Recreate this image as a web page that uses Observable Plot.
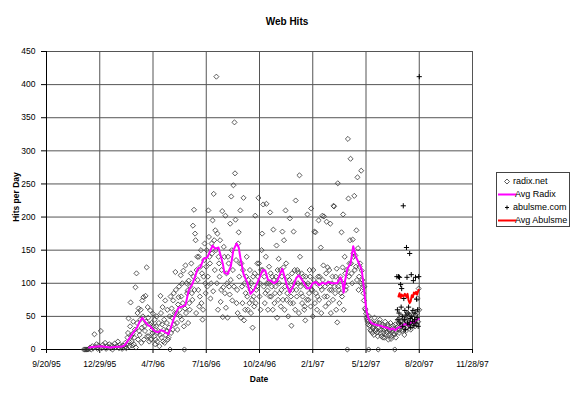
<!DOCTYPE html>
<html><head><meta charset="utf-8">
<script src="https://cdn.jsdelivr.net/npm/d3@7"></script>
<script src="https://cdn.jsdelivr.net/npm/@observablehq/plot@0.6"></script>
<style>
body{margin:0;background:#fff;}
#wrap{position:relative;width:575px;height:393px;overflow:hidden;font-family:"Liberation Sans",Arial,sans-serif;color:#000;}
#wrap svg.plot{position:absolute;left:0;top:0;}
.t{position:absolute;white-space:nowrap;}
#title{left:187px;width:200px;top:16px;text-align:center;font-size:10px;font-weight:bold;line-height:12px;}
#xlab{left:209px;width:100px;top:374px;text-align:center;font-size:8.5px;font-weight:bold;line-height:10px;}
#ylab{left:-34px;width:100px;top:192px;text-align:center;font-size:8.5px;font-weight:bold;line-height:10px;transform:rotate(-90deg);transform-origin:50% 50%;}
#legend{position:absolute;left:496px;top:172px;width:74px;height:55px;box-sizing:border-box;border:1px solid #444;background:#fff;font-size:9px;}
#legend .row{position:absolute;left:0;height:13px;line-height:13px;width:73px;}
#legend svg{position:absolute;left:0;top:0;}
#legend span{position:absolute;top:0;}
</style></head>
<body>
<div id="wrap">
  <div id="title" class="t"></div>
  <div id="xlab" class="t"></div>
  <div id="ylab" class="t"></div>
  <div id="legend"></div>
</div>
<script>
// ---- data (day offsets from 9/20/95, hits per day) ----
const baseDate = "9/20/95";
const chartTitle = "Web Hits";
const xLabel = "Date";
const yLabel = "Hits per Day";
const seriesNames = ["radix.net", "Avg Radix", "abulsme.com", "Avg Abulsme"];
const xTickLabels = ["9/20/95","12/29/95","4/7/96","7/16/96","10/24/96","2/1/97","5/12/97","8/20/97","11/28/97"];
const yTicks = [0,50,100,150,200,250,300,350,400,450];

const radixEvenDays = [
[70,0],[72,0],[74,0],[76,0],[78,0],[80,1],
[82,3],[84,0],[86,5],[88,2],[90,23],[92,4],[94,8],[96,1],[98,6],[100,3],[102,28],[104,2],[106,7],[108,4],[110,10],[112,1],[114,5],[116,3],[118,8],[120,2],[122,6],[124,0],[126,4],[128,9],[130,3],[132,5],[134,12],[136,2],[138,7],[140,4],[142,1],[144,6],[146,3],
[148,10],[150,2],[152,18],[154,47],[156,5],[158,71],[160,12],[162,24],[164,8],[166,30],[167,94],[168,3],[169,115],[170,40],[172,15],[173,62],[174,28],[176,45],[178,10],[180,74],[182,79],[184,35],[186,81],[188,124],[190,64],[192,20],[194,38],[195,59],[196,15],[198,30],[200,54],
[202,20],[204,8],[206,35],[208,12],[210,28],[212,5],[214,81],[216,18],[218,64],[220,30],[222,10],[223,74],[224,22],[226,40],[228,15],[230,33],[232,0],[233,80],[234,25],[236,48],[238,74],[240,38],[242,117],[244,55],[246,30],[248,79],[250,60],[252,112],[254,45],[256,70],[257,119],[258,35],[259,0],[260,62],
[261,127],[262,55],[264,85],[265,89],[266,40],[267,104],[268,70],[270,95],[272,130],[274,75],[275,187],[276,110],[277,211],[278,90],[279,175],[280,165],[281,55],[282,120],[284,105],[286,140],[287,65],[288,80],[290,150],[292,115],[293,45],[294,60],[296,135],[298,100],
[300,125],[302,95],[304,210],[306,140],[308,77],[310,160],[312,195],[313,88],[314,235],[316,120],[317,180],[318,150],[319,412],[320,100],[321,175],[322,60],[324,130],[326,165],[327,72],[328,90],[330,209],[331,49],[332,94],[334,140],[336,202],[337,63],[338,115],[340,48],[342,130],[343,95],[344,83],[345,190],[346,105],[347,231],[348,150],[349,74],[350,120],[351,248],[352,95],[353,343],[354,266],[355,196],[356,135],[357,70],[358,90],[359,55],[360,160],[361,177],[362,110],[364,210],[365,48],
[366,130],[368,70],[370,229],[371,44],[372,100],[374,85],[376,140],[378,60],[380,95],[382,120],[384,55],[386,75],[387,33],[388,110],[390,65],[392,202],[394,90],[396,130],[398,229],[400,80],[402,60],[404,150],[405,175],[406,120],[407,219],[408,95],[410,70],[412,140],[413,220],[414,100],[415,89],[416,60],[418,125],[420,207],[422,80],[424,110],[426,181],[428,70],[430,95],[432,157],[433,48],[434,120],[436,137],[438,85],[440,65],
[442,110],[443,178],[444,75],[445,124],[446,165],[447,60],[448,95],[449,210],[450,130],[452,85],[454,50],[456,105],[457,198],[458,70],[460,36],[462,90],[464,178],[466,120],[467,60],[468,225],[470,80],[472,100],[473,116],[474,55],[475,263],[476,140],[478,85],[480,70],[482,110],[484,60],[486,44],[488,95],[490,204],[492,75],[494,120],[496,65],[497,213],[498,90],[500,50],[502,105],[503,178],[504,70],[505,177],[506,85],[508,60],[510,110],[511,195],[512,75],[514,95],[515,154],[516,55],[518,202],[520,127],[521,201],[522,80],[524,65],[526,193],[528,124],[530,70],[532,90],[533,190],[534,55],[536,100],[538,75],[539,217],[540,216],[542,85],[544,60],[545,122],[546,41],[547,251],[548,95],[550,70],[552,110],[554,177],[555,80],[556,124],[557,204],[558,60],[560,140],[562,90],[564,120],[565,0],[566,318],[567,228],[568,110],[570,165],[571,288],[572,130],[574,100],[575,166],[576,145],[578,232],[579,120],[580,142],[582,180],[583,105],[584,260],[585,153],[586,90],[588,125],[590,100],[591,270],[592,119],[594,94],[596,74],[598,62],[600,54],
[602,45],[604,38],[605,0],[606,50],[608,30],[610,42],[612,25],[614,35],[616,48],[618,28],[620,40],[622,20],[623,0],[624,33],[626,45],[628,25],[630,38],[632,18],[634,30],[636,42],[638,22],[640,35],[642,15],[644,28],[646,40],[648,20],[650,32],[652,24],[654,0],[655,38],[656,18],[658,30],[660,45],[662,25],[664,35],[666,50],[668,28],[670,40],[672,22],[674,45],[676,33],[678,55],[680,38],[682,48],[684,30],[686,52],[688,40],[690,58],[692,35],[694,45],[696,55],[697,77],[698,42],[699,92],[700,60]
];

const radixOddDays = [
[149,4],[151,8],[153,25],[155,12],[157,35],[159,20],[161,6],[163,42],[165,18],[171,55],[175,22],[177,60],[179,33],[181,50],[183,15],[185,28],[187,42],[189,20],[191,48],[193,12],[197,40],[199,25],
[201,35],[203,45],[205,15],[207,50],[209,25],[211,40],[213,22],[215,55],[217,38],[219,12],[221,45],[225,28],[227,60],[229,18],[231,50],[235,62],[237,30],[239,85],[241,55],[243,90],[245,40],[247,68],[249,95],[251,50],[253,80],[255,100],
[263,100],[269,60],[271,115],[273,85],[283,140],[285,90],[289,125],[291,70],[295,110],[297,160],[299,85],
[301,150],[303,110],[305,170],[307,130],[309,100],[311,145],[315,165],[323,140],[325,110],[329,120],[333,155],[335,85],[339,100],[341,140],[363,130],
[367,95],[369,120],[373,60],[375,110],[377,80],[379,105],[381,70],[383,90],[385,100],[389,80],[391,115],[393,70],[395,95],[397,110],[399,130],[401,100],[403,120],[409,110],[411,85],[417,100],[419,80],[421,115],[423,95],[425,60],[427,105],[429,85],[431,110],[435,75],[437,100],[439,120],[441,90],
[451,75],[453,110],[455,95],[459,80],[461,115],[463,70],[465,100],[469,90],[471,120],[477,95],[479,115],[481,80],[483,100],[485,65],[487,110],[489,75],[491,100],[493,85],[495,110],[499,90],[501,120],[507,100],[509,80],[513,110],[517,90],[519,105],[523,95],[525,115],[527,80],[529,100],[531,120],[535,90],[537,110],[541,95],[543,110],[549,90],[551,105],[553,85],[559,100],[561,115],[563,95],[569,130],[573,115],[577,140],[581,125],[587,110],[589,130],[593,105],[595,85],[597,95],[599,60],
[601,48],[603,42],[607,36],[609,28],[611,40],[613,32],[615,22],[617,38],[619,30],[621,26],[625,40],[627,30],[629,20],[631,35],[633,26],[635,18],[637,32],[639,26],[641,38],[643,22],[645,30],[647,16],[649,28],[651,36],[653,22],[657,26],[659,34],[661,40],[663,30],[665,42],[667,36],[669,30],[671,46],[673,38],[675,28],[677,42],[679,35],[681,50],[683,40],[685,45],[687,36],[689,48],[691,42],[693,52],[695,38]
];

const avgRadix = [
[80,3],[90,4],[100,5],[110,4],[120,3],[130,4],[140,4],[146,6],[150,10],[155,16],[160,22],[165,28],[170,33],[175,42],[180,48],[185,42],[190,37],[195,35],[200,30],[205,27],[210,26],[215,29],[220,28],[225,25],[229,23],[233,32],[238,44],[243,55],[248,63],[255,65],[261,67],[267,89],[271,95],[274,99],[279,110],[284,122],[289,124],[295,137],[302,139],[307,148],[312,157],[317,152],[323,154],[327,142],[331,130],[334,116],[340,114],[346,125],[351,150],[357,160],[361,154],[364,139],[370,114],[377,101],[383,84],[389,89],[396,101],[401,110],[406,120],[411,119],[416,105],[421,104],[427,100],[433,103],[439,115],[443,122],[447,110],[451,98],[457,86],[463,95],[469,108],[474,112],[479,106],[485,98],[490,92],[495,93],[500,100],[506,102],[512,97],[518,101],[524,99],[530,102],[536,100],[542,100],[546,100],[552,109],[556,100],[558,86],[561,105],[565,122],[571,130],[574,145],[576,156],[578,150],[581,140],[584,135],[588,128],[592,120],[595,100],[598,78],[601,58],[605,46],[610,40],[615,38],[620,37],[627,36],[633,34],[640,33],[646,30],[650,32],[655,29],[660,33],[665,34],[670,37],[675,39],[680,36],[685,42],[690,40],[695,45],[699,46]
];

const abulsme = [
[658,110],[659,60],[660,45],[661,110],[662,55],[663,109],[664,40],[665,98],[666,64],[667,92],[668,50],[669,35],[670,217],[671,77],[672,45],[673,59],[674,30],[675,52],[676,154],[677,109],[678,40],[679,55],[680,64],[681,38],[682,145],[683,47],[684,33],[685,113],[686,50],[687,42],[688,59],[689,104],[690,36],[691,45],[692,55],[693,109],[694,40],[695,76],[696,48],[697,60],[698,35],[699,110],[700,412]
];

const avgAbulsme = [
[661,80],[663,85],[665,78],[667,83],[670,80],[673,84],[676,79],[678,84],[680,74],[682,70],[684,73],[686,82],[688,79],[690,86],[692,84],[694,87],[696,83],[698,88],[699,90]
];

// ---- build ----
const parse = d3.utcParse("%m/%d/%y");
const base = parse(baseDate);
const toDate = d => d3.utcDay.offset(base, d[0]);
const xTicks = xTickLabels.map(parse);
const fmt = d3.utcFormat("%-m/%-d/%y");
const radix = radixEvenDays.concat(radixOddDays).sort((a, b) => a[0] - b[0]);

const chart = Plot.plot({
  width: 575, height: 393,
  marginTop: 51, marginRight: 103, marginBottom: 44, marginLeft: 46,
  style: {fontFamily: "'Liberation Sans',Arial,sans-serif", fontSize: "8.5px", color: "#000", background: "transparent", overflow: "visible"},
  x: {type: "utc", domain: [xTicks[0], xTicks[xTicks.length - 1]]},
  y: {domain: [yTicks[0], yTicks[yTicks.length - 1]]},
  marks: [
    Plot.gridX(xTicks, {stroke: "#555", strokeOpacity: 1, strokeWidth: 1}),
    Plot.gridY(yTicks, {stroke: "#555", strokeOpacity: 1, strokeWidth: 1}),
    Plot.axisX(xTicks, {tickFormat: fmt, tickSize: 4, tickPadding: 7, label: null, stroke: "#000"}),
    Plot.axisY(yTicks, {tickSize: 5, tickPadding: 6, label: null, stroke: "#000"}),
    Plot.ruleY([yTicks[0]], {stroke: "#000"}),
    Plot.ruleX([xTicks[0]], {stroke: "#000"}),
    Plot.dot(radix, {x: toDate, y: d => d[1], symbol: "diamond2", r: 2.3, stroke: "#333", strokeWidth: 0.8, fill: "none"}),
    Plot.line(avgRadix, {x: toDate, y: d => d[1], stroke: "#ff00ff", strokeWidth: 2}),
    Plot.dot(abulsme, {x: toDate, y: d => d[1], symbol: "plus", r: 1.8, stroke: "#000", strokeWidth: 1}),
    Plot.line(avgAbulsme, {x: toDate, y: d => d[1], stroke: "#ff0000", strokeWidth: 2})
  ]
});
document.getElementById("wrap").appendChild(chart);

document.getElementById("title").textContent = chartTitle;
document.getElementById("xlab").textContent = xLabel;
document.getElementById("ylab").textContent = yLabel;

// legend
const legend = document.getElementById("legend");
const sym = [
  '<svg width="20" height="13"><path d="M10,4 L12.5,6.5 L10,9 L7.5,6.5 Z" fill="none" stroke="#333" stroke-width="0.8"/></svg>',
  '<svg width="20" height="13"><line x1="1" y1="6.5" x2="19" y2="6.5" stroke="#ff00ff" stroke-width="2"/></svg>',
  '<svg width="20" height="13"><path d="M8,6.5 H12 M10,4.5 V8.5" stroke="#000" stroke-width="1"/></svg>',
  '<svg width="20" height="13"><line x1="1" y1="6.5" x2="19" y2="6.5" stroke="#ff0000" stroke-width="2"/></svg>'
];
const textLeft = [16, 18, 16, 18];
seriesNames.forEach((n, i) => {
  const row = document.createElement("div");
  row.className = "row";
  row.style.top = (2 + i * 13) + "px";
  row.innerHTML = sym[i] + '<span style="left:' + textLeft[i] + 'px">' + n + '</span>';
  legend.appendChild(row);
});
</script>
</body></html>
